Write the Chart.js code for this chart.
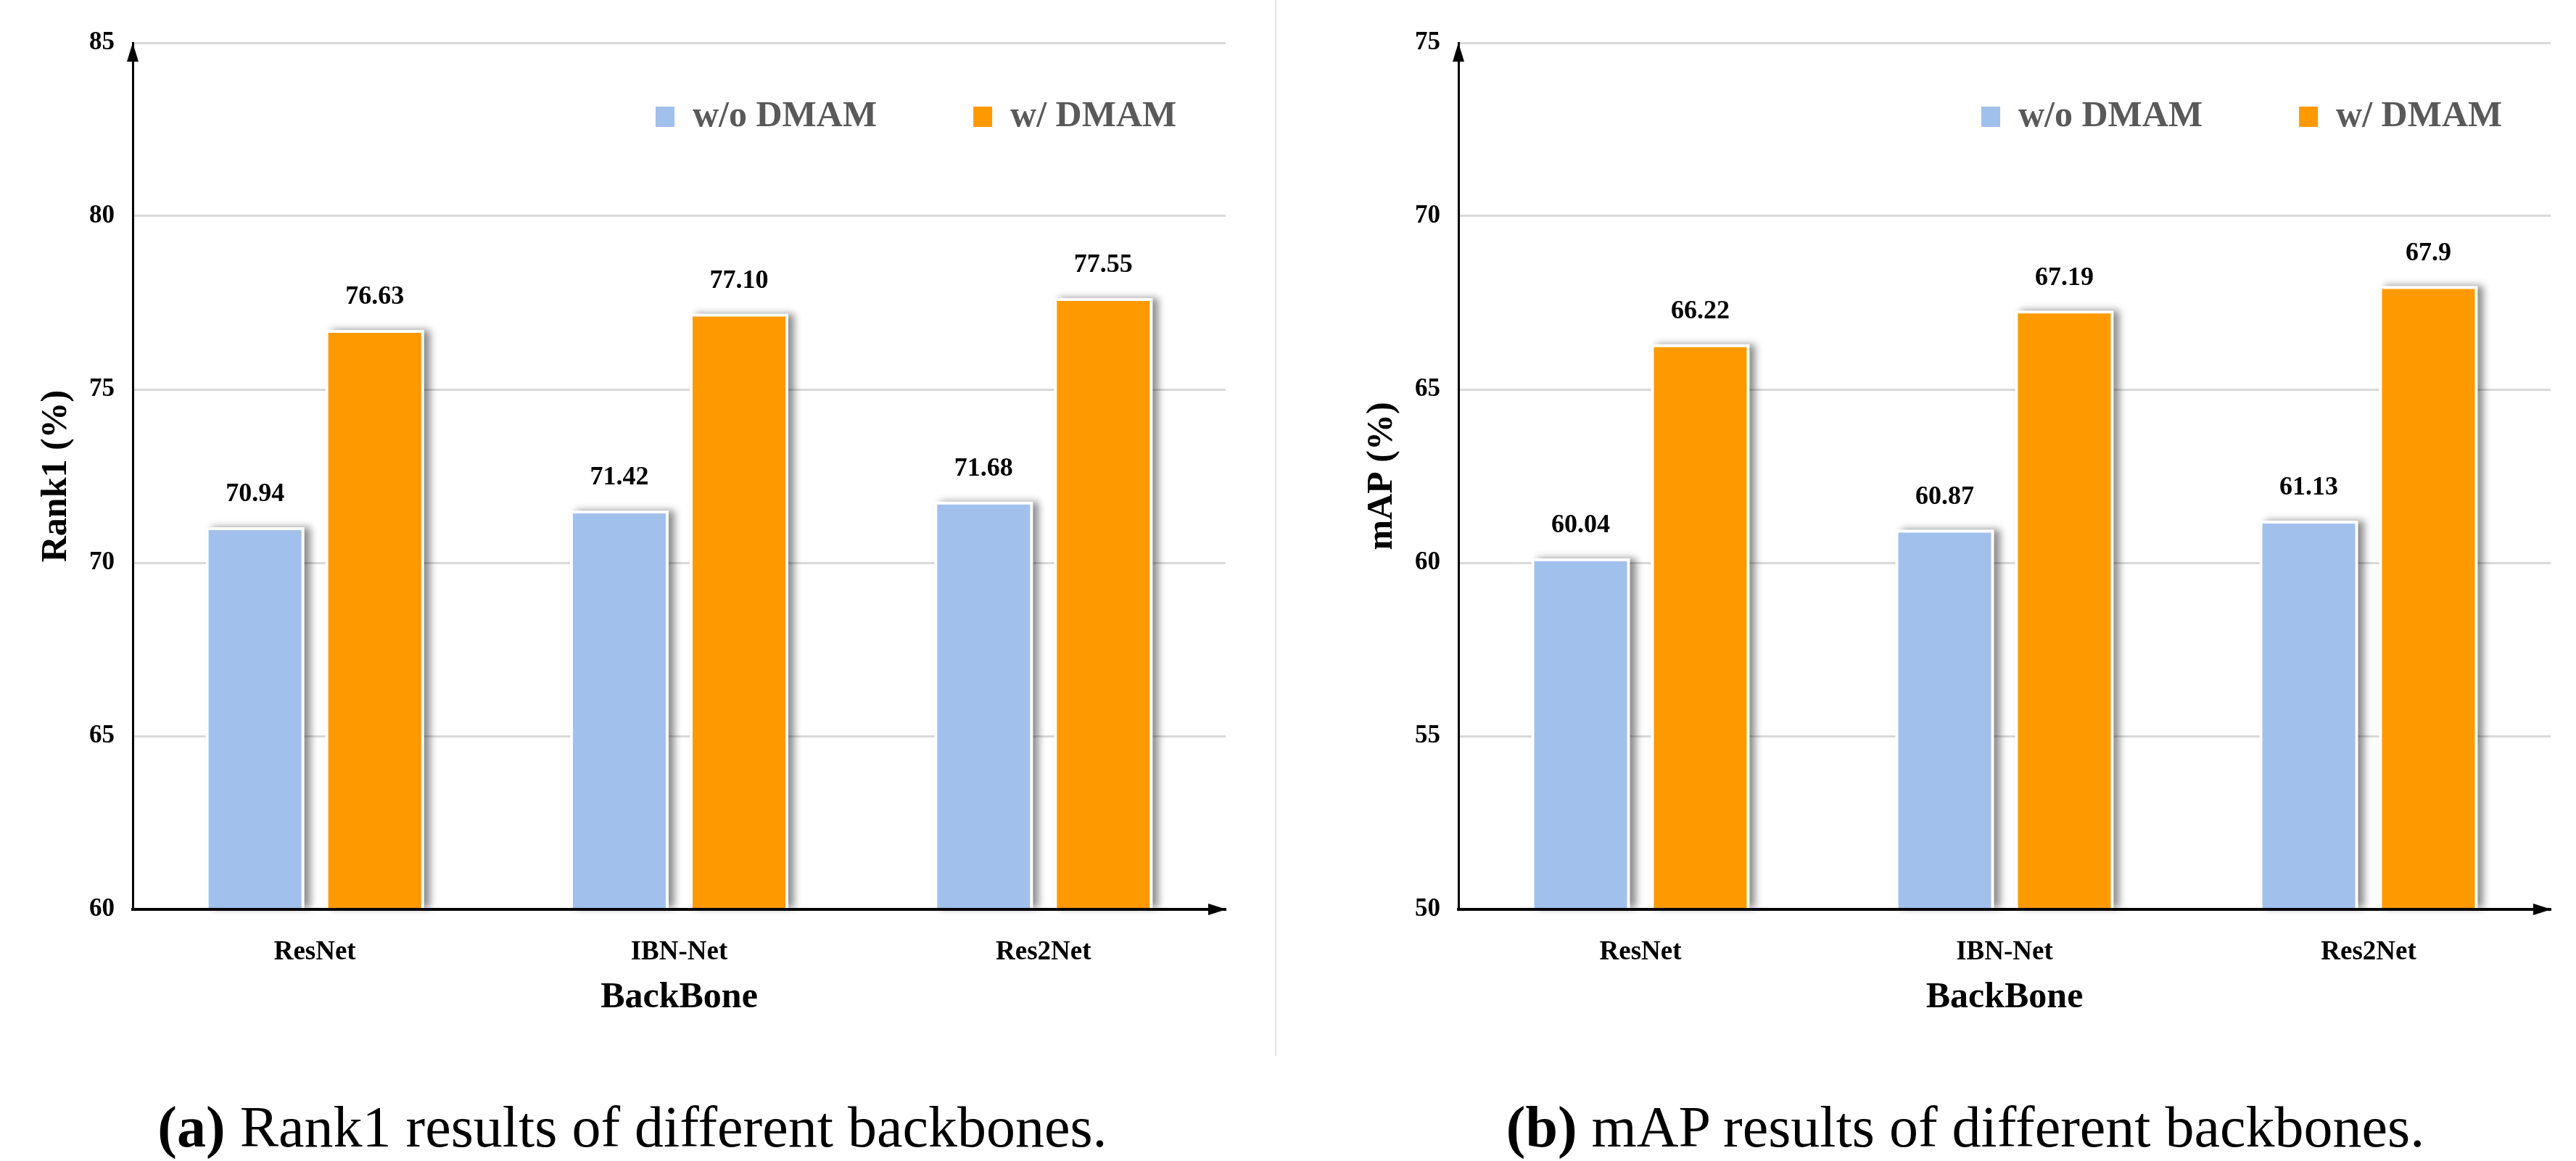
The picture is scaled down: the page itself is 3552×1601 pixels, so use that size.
<!DOCTYPE html>
<html>
<head>
<meta charset="utf-8">
<script src="https://cdn.jsdelivr.net/npm/chart.js@4.4.0/dist/chart.umd.min.js"></script>
<style>
  html, body { margin: 0; padding: 0; background: #fff; }
  body { width: 3552px; height: 1601px; position: relative; overflow: hidden; }
  canvas { position: absolute; top: 0; }
  #rank1Chart { left: 0; }
  #mapChart { left: 1760px; }
  .sep { position: absolute; left: 1758px; top: 0; width: 2px; height: 1456px; background: #e4e4e4; }
  .caption { position: absolute; top: 1514px; width: 1800px; font-family: 'Liberation Serif', serif;
             font-size: 80px; line-height: 80px; white-space: nowrap; text-align: center; color: #000; }
</style>
</head>
<body>
<canvas id="rank1Chart" width="1757" height="1456"></canvas>
<div class="sep"></div>
<canvas id="mapChart" width="1792" height="1456"></canvas>
<div class="caption" style="left:-28px"><b>(a)</b> Rank1 results of different backbones.</div>
<div class="caption" style="left:1810px"><b>(b)</b> mAP results of different backbones.</div>

<script>
// data (kept as text so labels like 77.10 keep their zero)
var backbones = ['ResNet', 'IBN-Net', 'Res2Net'];
var seriesNames = ['w/o DMAM', 'w/ DMAM'];
var rank1Without = ['70.94', '71.42', '71.68'];
var rank1With = ['76.63', '77.10', '77.55'];
var mapWithout = ['60.04', '60.87', '61.13'];
var mapWith = ['66.22', '67.19', '67.9'];
var rank1Ticks = [60, 85];
var mapTicks = [50, 75];

var FONT = 'Liberation Serif';
var BLUE = '#a1c0ec';
var ORANGE = '#ff9900';

Chart.defaults.font.family = FONT;
Chart.defaults.font.weight = 'bold';
Chart.defaults.color = '#000';

// white halo + soft shadow behind each bar, like the office chart
var barHalo = {
    id: 'barHalo',
    beforeDatasetsDraw: function(chart) {
        var ctx = chart.ctx;
        var bottom = chart.chartArea.bottom;
        ctx.save();
        ctx.fillStyle = '#fff';
        ctx.shadowColor = 'rgba(0,0,0,0.45)';
        ctx.shadowBlur = 10;
        ctx.shadowOffsetX = 8;
        ctx.shadowOffsetY = 0;
        chart.data.datasets.forEach(function(ds, i) {
            chart.getDatasetMeta(i).data.forEach(function(bar) {
                var w = bar.width;
                var base = Math.min(bar.base, bottom);
                ctx.fillRect(bar.x - w / 2 - 4, bar.y - 4, w + 8, base - bar.y + 2);
            });
        });
        ctx.restore();
    }
};

var valueLabels = {
    id: 'valueLabels',
    afterDatasetsDraw: function(chart) {
        var ctx = chart.ctx;
        ctx.save();
        ctx.font = 'bold 36px "' + FONT + '"';
        ctx.fillStyle = '#000';
        ctx.textAlign = 'center';
        ctx.textBaseline = 'middle';
        chart.data.datasets.forEach(function(ds, i) {
            chart.getDatasetMeta(i).data.forEach(function(bar, j) {
                ctx.fillText(ds.data[j], bar.x, bar.y - 49);
            });
        });
        ctx.restore();
    }
};

// move the legend inside the plot, upper right
var legendSpot = {
    id: 'legendSpot',
    afterLayout: function(chart) {
        var lg = chart.legend;
        var p = lg.options.labels.padding;
        lg.left = chart.chartArea.left + 721 - p;
        lg.top = chart.chartArea.top + 77 - p;
        lg.right = chart.width + 2000;
        lg.bottom = lg.top + 400;
        lg.width = lg.right - lg.left;
        lg.height = 400;
    }
};

var axisArrows = {
    id: 'axisArrows',
    afterDraw: function(chart) {
        var ctx = chart.ctx, a = chart.chartArea;
        ctx.save();
        ctx.fillStyle = '#000';
        ctx.beginPath();
        ctx.moveTo(a.left, a.top);
        ctx.lineTo(a.left - 8, a.top + 26);
        ctx.lineTo(a.left + 8, a.top + 26);
        ctx.closePath();
        ctx.fill();
        ctx.beginPath();
        ctx.moveTo(a.right + 1, a.bottom);
        ctx.lineTo(a.right - 24, a.bottom - 8);
        ctx.lineTo(a.right - 24, a.bottom + 8);
        ctx.closePath();
        ctx.fill();
        ctx.restore();
    }
};

function makeChart(id, without, withD, yTitle, ticks, padLeft, padRight) {
    return new Chart(document.getElementById(id), {
        type: 'bar',
        data: {
            labels: backbones,
            datasets: [{
                label: seriesNames[0],
                data: without,
                backgroundColor: BLUE,
                borderWidth: 0,
                categoryPercentage: 0.657,
                barPercentage: 0.776
            }, {
                label: seriesNames[1],
                data: withD,
                backgroundColor: ORANGE,
                borderWidth: 0,
                categoryPercentage: 0.657,
                barPercentage: 0.776
            }]
        },
        options: {
            responsive: false,
            animation: false,
            layout: { padding: { left: padLeft, right: padRight, top: 58, bottom: 0 } },
            plugins: {
                legend: {
                    position: 'top',
                    align: 'start',
                    maxHeight: 1,
                    labels: {
                        boxWidth: 26,
                        boxHeight: 28,
                        padding: 133,
                        color: '#595959',
                        font: { family: FONT, size: 50, weight: 'bold' }
                    }
                },
                tooltip: { enabled: false }
            },
            scales: {
                x: {
                    grid: { display: false },
                    border: { display: true, color: '#000', width: 4, z: 1 },
                    ticks: { padding: 29, maxRotation: 0, font: { size: 37, weight: 'bold' } },
                    title: { display: true, text: 'BackBone', padding: { top: 0, bottom: 50 },
                             font: { size: 50, weight: 'bold' } },
                    afterFit: function(s) { s.height = 202; }
                },
                y: {
                    min: ticks[0],
                    max: ticks[1],
                    grid: { color: '#d9d9d9', lineWidth: 3, drawTicks: false },
                    border: { display: true, color: '#000', width: 3 },
                    ticks: { stepSize: 5, padding: 25, font: { size: 35, weight: 'bold' } },
                    title: { display: true, text: yTitle, padding: { top: 48, bottom: 0 },
                             font: { size: 50, weight: 'bold' } },
                    afterFit: function(s) { s.width = 183; }
                }
            }
        },
        plugins: [barHalo, valueLabels, legendSpot, axisArrows]
    });
}

makeChart('rank1Chart', rank1Without, rank1With, 'Rank1 (%)', rank1Ticks, 0, 67);
makeChart('mapChart', mapWithout, mapWith, 'mAP (%)', mapTicks, 68, 35);
</script>
</body>
</html>
